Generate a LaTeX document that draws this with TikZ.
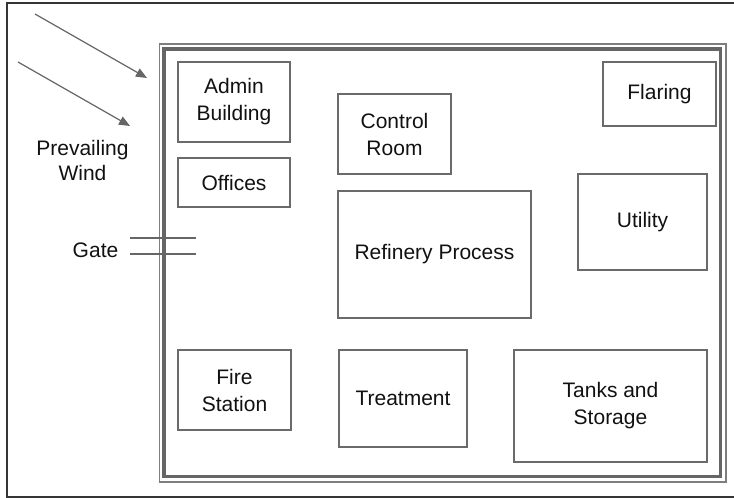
\documentclass[tikz,border=0pt]{standalone}
\usepackage{fontspec}
\setmainfont{Liberation Sans}
\usetikzlibrary{arrows.meta}
\definecolor{edge}{HTML}{6A6A6A}
\definecolor{wall}{HTML}{666666}
\definecolor{wallthin}{HTML}{7E7E7E}
\definecolor{ink}{HTML}{111111}
\begin{document}
\begin{tikzpicture}[x=1pt,y=-1pt,
  bld/.style={draw=edge, line width=1.6pt, anchor=north west, inner sep=0pt,
    outer sep=0pt, align=center, text=ink, font=\fontsize{21}{27}\selectfont},
  lbl/.style={inner sep=0pt, align=center, text=ink, font=\fontsize{21}{25}\selectfont},
  wind/.style={draw=wall, line width=1.2pt, -{Triangle[length=11pt,width=9pt]}},
  gateline/.style={draw=wall, line width=1.5pt}]
\useasboundingbox (0,0) rectangle (734,498);
% page frame (open on the right)
\draw[ink!85, line width=1.2pt] (734,3) -- (7,3) -- (7,497) -- (734,497);
% plant boundary wall: thin outer line and heavy inner line
\draw[wallthin, line width=1.2pt] (159.5,44) rectangle (726,482);
\draw[wall, line width=3.5pt] (164,49) rectangle (720.5,476.5);
% buildings
\node[bld, minimum width=112pt, minimum height=80pt] (admin) at (178,62) {Admin\\Building};
\node[bld, minimum width=112pt, minimum height=49pt] (offices) at (178,158) {Offices};
\node[bld, minimum width=113pt, minimum height=80pt] (control) at (338,94) {Control\\Room};
\node[bld, minimum width=113pt, minimum height=64pt] (flaring) at (603,62) {Flaring};
\node[bld, minimum width=129pt, minimum height=96pt] (utility) at (578,174) {Utility};
\node[bld, minimum width=193pt, minimum height=127pt] (refinery) at (338,191) {Refinery Process};
\node[bld, minimum width=113pt, minimum height=80pt] (fire) at (178,350) {Fire\\Station};
\node[bld, minimum width=128pt, minimum height=97pt] (treat) at (339,350) {Treatment};
\node[bld, minimum width=193pt, minimum height=112pt] (tanks) at (514,350) {Tanks and\\Storage};
% wind direction
\node[lbl] (windlbl) at (82.5,160) {Prevailing\\Wind};
\coordinate (w1s) at (35,14);
\coordinate (w1e) at (147,78);
\coordinate (w2s) at (18,62);
\coordinate (w2e) at (130,126);
\draw[wind] (w1s) -- (w1e);
\draw[wind] (w2s) -- (w2e);
% gate
\node[lbl] (gate) at (95.5,250) {Gate};
\coordinate (g1a) at (130,238);
\coordinate (g1b) at (196,238);
\coordinate (g2a) at (130,254);
\coordinate (g2b) at (196,254);
\draw[gateline] (g1a) -- (g1b);
\draw[gateline] (g2a) -- (g2b);
\end{tikzpicture}
\end{document}
